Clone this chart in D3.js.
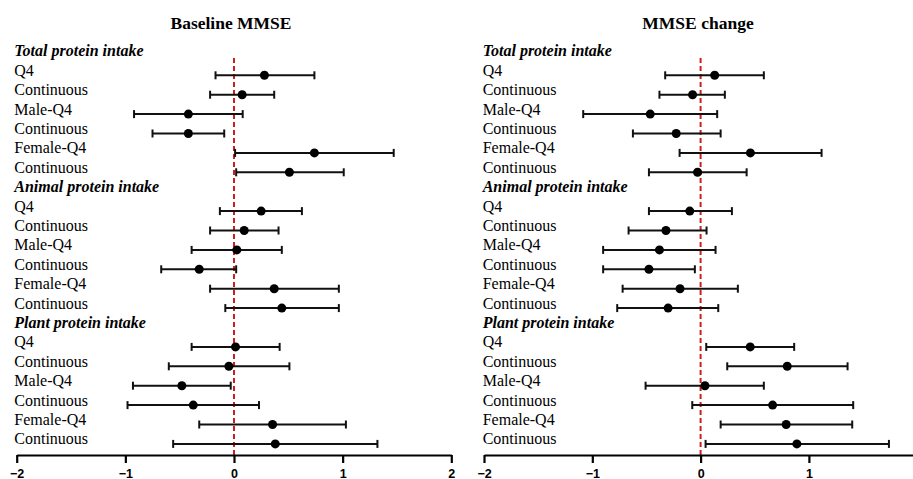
<!DOCTYPE html>
<html>
<head>
<meta charset="utf-8">
<script src="https://cdn.jsdelivr.net/npm/d3@7"></script>
<style>
  html, body { margin: 0; padding: 0; background: #fff; }
  svg { display: block; }
</style>
</head>
<body>
<svg id="chart" width="913" height="479"></svg>
<script>
// ---- data ----
const groups = ["Total protein intake", "Animal protein intake", "Plant protein intake"];
const subgroups = ["Q4", "Continuous", "Male-Q4", "Continuous", "Female-Q4", "Continuous"];
const xTicks = [-2, -1, 0, 1, 2];
const panelTitles = ["Baseline MMSE", "MMSE change"];

// Baseline MMSE (18 rows: 3 groups x 6 subgroups)
const baselineEst  = [0.28, 0.075, -0.42, -0.42, 0.74, 0.51,
                      0.25, 0.094, 0.026, -0.32, 0.37, 0.44,
                      0.014, -0.047, -0.48, -0.375, 0.355, 0.38];
const baselineLow  = [-0.17, -0.22, -0.92, -0.75, 0.01, 0.02,
                      -0.13, -0.22, -0.39, -0.67, -0.22, -0.08,
                      -0.39, -0.60, -0.93, -0.98, -0.32, -0.56];
const baselineHigh = [0.74, 0.37, 0.08, -0.09, 1.47, 1.01,
                      0.625, 0.41, 0.44, 0.02, 0.965, 0.965,
                      0.42, 0.51, -0.03, 0.23, 1.03, 1.32];

// MMSE change
const changeEst  = [0.13, -0.074, -0.465, -0.225, 0.46, -0.028,
                    -0.10, -0.32, -0.38, -0.477, -0.19, -0.30,
                    0.458, 0.80, 0.04, 0.665, 0.79, 0.889];
const changeLow  = [-0.327, -0.38, -1.084, -0.625, -0.194, -0.477,
                    -0.477, -0.665, -0.90, -0.90, -0.72, -0.77,
                    0.052, 0.246, -0.508, -0.077, 0.185, 0.046];
const changeHigh = [0.584, 0.224, 0.153, 0.185, 1.117, 0.425,
                    0.289, 0.055, 0.138, -0.053, 0.344, 0.163,
                    0.864, 1.357, 0.584, 1.409, 1.40, 1.739];

// ---- build rows ----
const rows = [];
groups.forEach((g, gi) => {
  rows.push({label: g, header: true});
  subgroups.forEach((s, si) => rows.push({label: s, header: false, idx: gi * 6 + si}));
});

const W = 913;
const svg = d3.select("#chart");
const serif = "'Liberation Serif', 'Times New Roman', serif";
const sans = "'Liberation Sans', Arial, sans-serif";

const y = d3.scalePoint().domain(d3.range(rows.length)).range([55.9, 443.9]);
const axisY = 455;

const panels = [
  {title: panelTitles[0], est: baselineEst, low: baselineLow, high: baselineHigh,
   range: [16.7, 451.3], labelX: 14.3, titleX: 231},
  {title: panelTitles[1], est: changeEst, low: changeLow, high: changeHigh,
   range: [484, 917.2], labelX: 482.7, titleX: 698}
];

panels.forEach(p => {
  const x = d3.scaleLinear().domain([-2, 2]).range(p.range);
  const g = svg.append("g");

  // title
  g.append("text")
    .attr("x", p.titleX).attr("y", 29)
    .attr("text-anchor", "middle")
    .style("font-family", serif).style("font-weight", "bold").style("font-size", "17.5px")
    .text(p.title);

  // row labels
  g.selectAll("text.lab").data(rows).join("text")
    .attr("class", "lab")
    .attr("x", p.labelX)
    .attr("y", (d, i) => y(i) + 0.5)
    .style("font-family", serif)
    .style("font-size", "16px")
    .style("font-weight", d => d.header ? "bold" : "normal")
    .style("font-style", d => d.header ? "italic" : "normal")
    .text(d => d.label);

  // reference line at 0
  g.append("line")
    .attr("x1", x(0)).attr("x2", x(0))
    .attr("y1", 58).attr("y2", axisY)
    .attr("stroke", "#cc1f1f").attr("stroke-width", 2)
    .attr("stroke-dasharray", "5,3");

  const data = rows.map((r, i) => ({r, i})).filter(d => !d.r.header)
    .map(d => ({yy: y(d.i), est: p.est[d.r.idx], low: p.low[d.r.idx], high: p.high[d.r.idx]}));

  // error bars
  g.selectAll("line.bar").data(data).join("line")
    .attr("class", "bar")
    .attr("x1", d => x(d.low)).attr("x2", d => x(d.high))
    .attr("y1", d => d.yy).attr("y2", d => d.yy)
    .attr("stroke", "#111").attr("stroke-width", 2);
  ["low", "high"].forEach(k => {
    g.selectAll("line.cap" + k).data(data).join("line")
      .attr("class", "cap" + k)
      .attr("x1", d => x(d[k])).attr("x2", d => x(d[k]))
      .attr("y1", d => d.yy - 4).attr("y2", d => d.yy + 4)
      .attr("stroke", "#111").attr("stroke-width", 2);
  });
  // points
  g.selectAll("circle.pt").data(data).join("circle")
    .attr("class", "pt")
    .attr("cx", d => x(d.est)).attr("cy", d => d.yy)
    .attr("r", 4.5).attr("fill", "#000");

  // axis (ticks falling outside the visible area are not drawn)
  const visibleTicks = xTicks.filter(t => x(t) <= W - 4);
  const ax = g.append("g").attr("transform", `translate(0,${axisY})`)
    .call(d3.axisBottom(x).tickValues(visibleTicks).tickSize(8).tickSizeOuter(0).tickFormat(d3.format("d")));
  ax.select(".domain").attr("stroke", "#000").attr("stroke-width", 2.2);
  ax.selectAll(".tick line").attr("stroke", "#000").attr("stroke-width", 2.2);
  ax.selectAll(".tick text")
    .attr("y", 22.5).attr("dy", 0)
    .style("font-family", sans).style("font-weight", "bold").style("font-size", "12.5px")
    .attr("fill", "#000");
});
</script>
</body>
</html>
